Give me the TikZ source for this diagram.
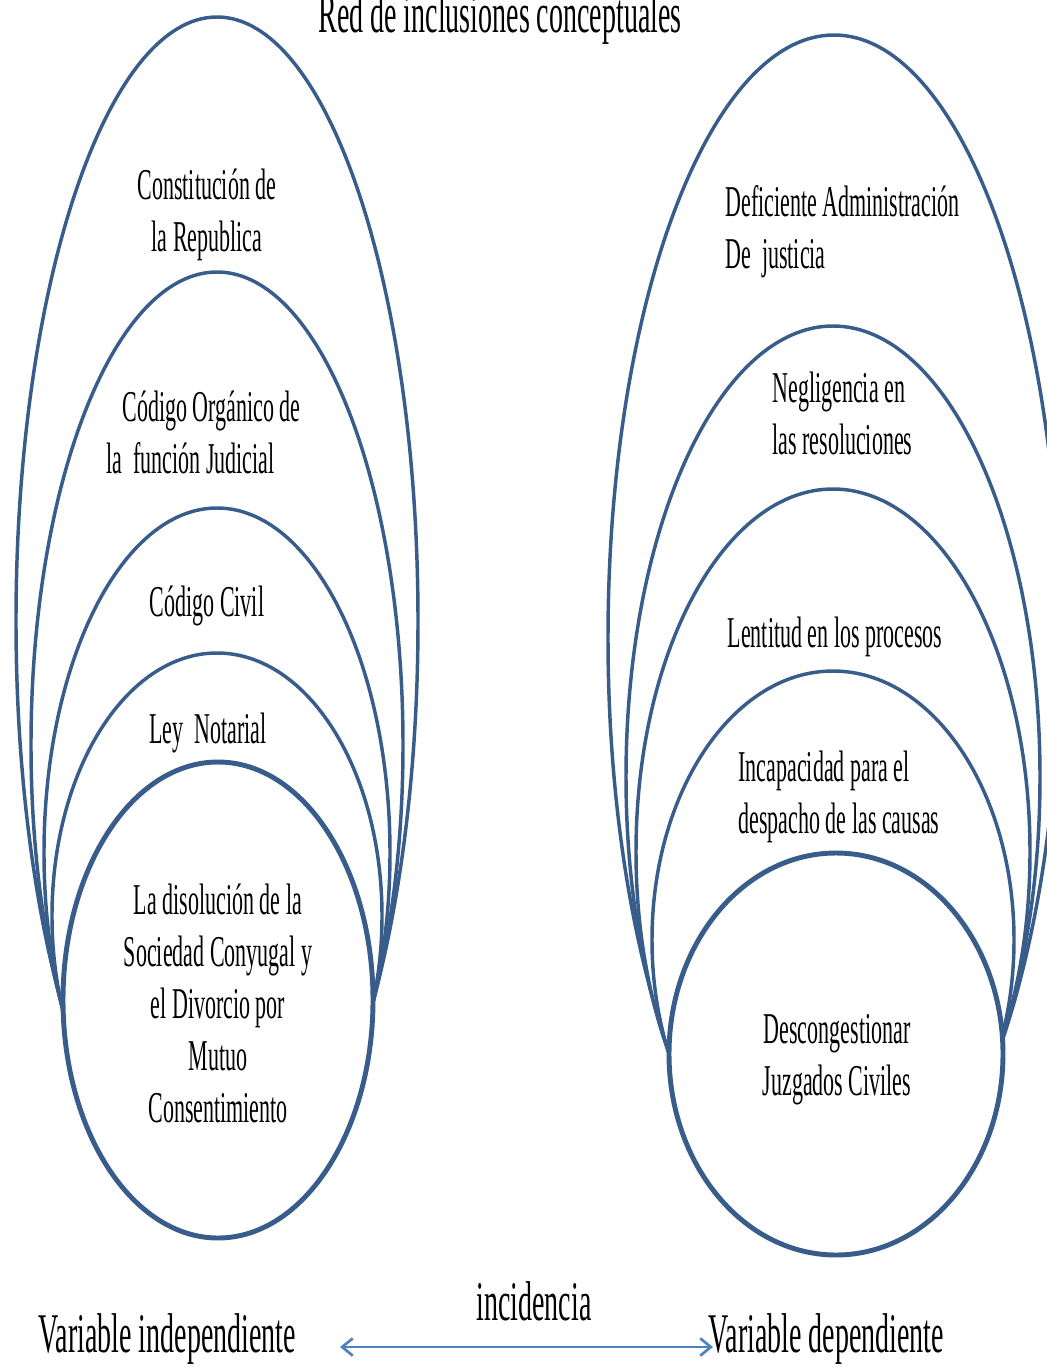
\documentclass[tikz,border=0pt]{standalone}
\usepackage{fontspec}
\setmainfont[FakeStretch=0.5]{Liberation Serif}
\usetikzlibrary{arrows.meta}

\definecolor{azulelipse}{RGB}{56,93,138}
\definecolor{azulflecha}{RGB}{79,129,189}

\tikzset{every picture/.style={line width=0.75pt}}
\tikzset{
  elipse/.style={draw=azulelipse, fill=white, line width=2.6pt},
  elipseint/.style={elipse, line width=3.7pt},
  texto/.style={font=\fontsize{33}{39}\selectfont, inner sep=0pt, align=center},
  textoizq/.style={texto, align=left, anchor=west},
  rotulo/.style={font=\fontsize{42}{48}\selectfont, inner sep=0pt},
  flecha/.style={draw=azulflecha, line width=2pt, {Straight Barb[length=8pt,width=13pt]}-{Straight Barb[length=8pt,width=13pt]}}
}

\begin{document}
\begin{tikzpicture}[x=0.75pt,y=0.75pt,yscale=-1,xscale=1]
	\useasboundingbox (0,0) rectangle (1046,1367);

	%Shape: Ellipse [variable independiente]
	\draw [elipse] (217,621) ellipse [x radius=201, y radius=604];
	%Shape: Ellipse
	\draw [elipse] (217,745) ellipse [x radius=186, y radius=473];
	%Shape: Ellipse
	\draw [elipse] (217,853) ellipse [x radius=173, y radius=345];
	%Shape: Ellipse
	\draw [elipse] (217,916) ellipse [x radius=165, y radius=263];
	%Shape: Ellipse
	\draw [elipseint] (218,1000) ellipse [x radius=155, y radius=238];

	%Shape: Ellipse [variable dependiente]
	\draw [elipse] (834,638) ellipse [x radius=226, y radius=603];
	%Shape: Ellipse
	\draw [elipse] (833,777) ellipse [x radius=207, y radius=451];
	%Shape: Ellipse
	\draw [elipse] (833,852) ellipse [x radius=197, y radius=363];
	%Shape: Ellipse
	\draw [elipse] (833,940) ellipse [x radius=181, y radius=269];
	%Shape: Ellipse
	\draw [elipseint] (836,1054) ellipse [x radius=167, y radius=201];

	% Text Node
	\node [rotulo, anchor=base] (titulo) at (500,32) {Red de inclusiones conceptuales};

	% Text Node
	\node [texto] (constitucion) at (207,215) {Constitución de\\la Republica};
	% Text Node
	\node [textoizq] (codorganico) at (106,432) {\hspace*{12pt}Código Orgánico de\\la\ \ función Judicial};
	% Text Node
	\node [texto] (codcivil) at (207,606) {Código Civil};
	% Text Node
	\node [texto] (leynotarial) at (208,733) {Ley\ \ Notarial};
	% Text Node
	\node [texto] (disolucion) at (218,1003) {La disolución de la\\Sociedad Conyugal y\\el Divorcio por\\Mutuo\\Consentimiento};

	% Text Node
	\node [textoizq] (deficiente) at (725,232) {Deficiente Administración\\De\ \ justicia};
	% Text Node
	\node [textoizq] (negligencia) at (772,413) {Negligencia en\\las resoluciones};
	% Text Node
	\node [texto] (lentitud) at (835,637) {Lentitud en los procesos};
	% Text Node
	\node [textoizq] (incapacidad) at (738,797) {Incapacidad para el\\despacho de las causas};
	% Text Node
	\node [texto] (descongestionar) at (837,1060) {Descongestionar\\Juzgados Civiles};

	% Text Node
	\node [rotulo, anchor=base west] (vindep) at (38,1352) {Variable independiente};
	% Text Node
	\node [rotulo, anchor=base west] (vdep) at (708,1352) {Variable dependiente};
	% Text Node
	\node [rotulo, anchor=base] (incidencia) at (534,1320) {incidencia};

	%Straight Lines [incidencia]
	\coordinate (fizq) at (340,1347);
	\coordinate (fder) at (713,1347);
	\draw [flecha] (fizq) -- (fder);

\end{tikzpicture}
\end{document}
